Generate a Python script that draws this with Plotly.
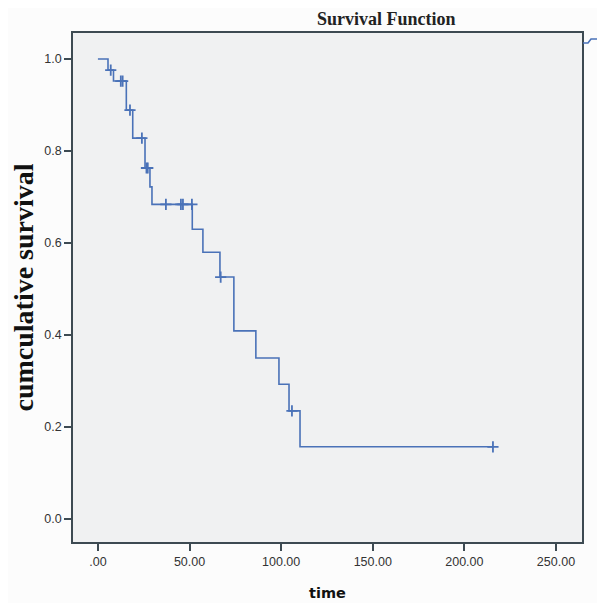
import plotly.graph_objects as go

# Kaplan-Meier step data
event_times = [0, 5.5, 8.5, 15.5, 19.0, 25.7, 28.4, 29.5, 51.5, 57.3, 66.6, 74.2, 86.2, 98.8, 104.3, 110.3]
survival = [1.0, 0.976, 0.952, 0.889, 0.828, 0.763, 0.722, 0.684, 0.630, 0.580, 0.526, 0.409, 0.350, 0.293, 0.235, 0.157]
censor_times = [7.0, 12.5, 13.5, 17.5, 24.0, 26.5, 27.2, 37.1, 45.3, 46.4, 51.3, 67.0, 105.9, 215.6]

x_ticks = [0, 50, 100, 150, 200, 250]
x_tick_labels = [".00", "50.00", "100.00", "150.00", "200.00", "250.00"]
y_ticks = [0.0, 0.2, 0.4, 0.6, 0.8, 1.0]
y_tick_labels = ["0.0", "0.2", "0.4", "0.6", "0.8", "1.0"]


def surv_at(t):
    s = survival[0]
    for et, sv in zip(event_times, survival):
        if et <= t:
            s = sv
    return s


censor_surv = [surv_at(t) for t in censor_times]
line_x = event_times + [max(censor_times)]
line_y = survival + [survival[-1]]

LINE = "#4a72b8"
OFF = 8  # default page body margin (top/left)
W, H = 605 - OFF, 603 - OFF
L, T = 73 - OFF, 33 - OFF
pw = ph = 509
R, B = W - L - pw, H - T - ph

fig = go.Figure()
fig.add_trace(go.Scatter(x=line_x, y=line_y, mode="lines", line=dict(color=LINE, width=1.6, shape="hv"),
                         hoverinfo="skip", showlegend=False))
fig.add_trace(go.Scatter(x=censor_times, y=censor_surv, mode="markers",
                         marker=dict(symbol="cross-thin", size=8, line=dict(color=LINE, width=1.8)),
                         showlegend=False))

frame = "#3d4a52"
fig.update_xaxes(range=[-13.6, 264.2], tickvals=x_ticks, ticktext=x_tick_labels, automargin=False,
                 showgrid=False, zeroline=False, showline=True, mirror=True, linecolor=frame, linewidth=1.5,
                 ticks="outside", ticklen=7, tickwidth=1.5, tickcolor=frame,
                 tickfont=dict(family="Liberation Sans, Arial", size=12.5, color="#333"),
                 title=dict(text="<b>time</b>", font=dict(family="DejaVu Sans", size=14.5, color="#111"), standoff=20))
fig.update_yaxes(range=[-0.05, 1.0565], tickvals=y_ticks, ticktext=y_tick_labels, automargin=False,
                 showgrid=False, zeroline=False, showline=True, mirror=True, linecolor=frame, linewidth=1.5,
                 ticks="outside", ticklen=7, tickwidth=1.5, tickcolor=frame,
                 tickfont=dict(family="Liberation Sans, Arial", size=12.5, color="#333"),
                 title=dict(text="<b>cumculative survival</b>", font=dict(family="Liberation Serif, Times New Roman", size=28, color="#111"), standoff=9))


def px(xs):
    return (xs - OFF - L) / pw


def py(ys):
    return (H - B - (ys - OFF)) / ph


fig.add_annotation(text="<b>Survival Function</b>", x=px(386), y=py(18.5), xref="paper", yref="paper",
                   xanchor="center", yanchor="middle", showarrow=False,
                   font=dict(family="Liberation Serif, Times New Roman", size=18, color="#222"))

# clipped legend fragment at top right
fig.add_shape(type="path", xref="paper", yref="paper",
              path=f"M {px(583)} {py(43)} L {px(588)} {py(43)} L {px(591)} {py(39)} L {px(606)} {py(39)}",
              line=dict(color=LINE, width=1.6))
fig.add_shape(type="line", xref="paper", yref="paper", x0=px(599), x1=px(599), y0=py(35), y1=py(43),
              line=dict(color=LINE, width=1.6))

fig.update_layout(width=W, height=H, margin=dict(l=L, r=R, t=T, b=B),
                  plot_bgcolor="#f0f1f2", paper_bgcolor="#fcfcfc")
fig.write_html("out.html")
